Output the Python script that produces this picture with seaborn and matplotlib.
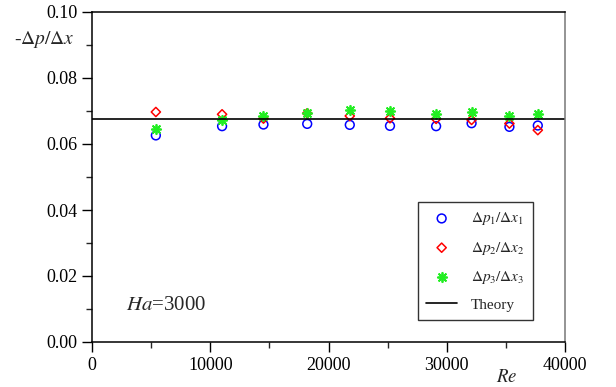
import matplotlib
matplotlib.use("Agg")
import matplotlib.pyplot as plt
import seaborn as sns
import pandas as pd
from matplotlib.ticker import MultipleLocator, FormatStrFormatter

sns.set_style("ticks")
plt.rcParams['font.family'] = ['Liberation Serif', 'DejaVu Serif']
plt.rcParams['mathtext.fontset'] = 'stix'

re_vals = [5400, 11000, 14500, 18200, 21800, 25200, 29100, 32100, 35300, 37700]
dp1 = [0.0626, 0.0654, 0.0659, 0.0661, 0.0658, 0.0655, 0.0654, 0.0663, 0.0652, 0.0656]
dp2 = [0.0697, 0.0690, 0.0677, 0.0693, 0.0685, 0.0678, 0.0676, 0.0673, 0.0662, 0.0642]
dp3 = [0.0645, 0.0672, 0.0685, 0.0695, 0.0703, 0.0701, 0.0692, 0.0696, 0.0685, 0.0691]
theory = 0.0677

fig = plt.figure(figsize=(6.16, 3.87), dpi=100)
ax = fig.add_axes([92/616, 1-342/387, (565-92)/616, (342-12)/387])

df = pd.DataFrame({"Re": re_vals, "dp1": dp1, "dp2": dp2, "dp3": dp3})

sns.scatterplot(data=df, x="Re", y="dp1", ax=ax, marker="o", s=40,
                facecolors="none", edgecolor="blue", linewidth=1.1,
                label=r"$\Delta p_1/\Delta x_1$")
sns.scatterplot(data=df, x="Re", y="dp2", ax=ax, marker="D", s=22,
                facecolors="none", edgecolor="red", linewidth=1.1,
                label=r"$\Delta p_2/\Delta x_2$")
sns.scatterplot(data=df, x="Re", y="dp3", ax=ax, marker=(8, 2, 0), s=45,
                color="#22ee22", edgecolor="#22ee22", linewidth=1.3,
                label=r"$\Delta p_3/\Delta x_3$")
ax.axhline(theory, color="black", linewidth=1.2, label="Theory")

ax.set_xlim(0, 40000)
ax.set_ylim(0, 0.10)
ax.xaxis.set_major_locator(MultipleLocator(10000))
ax.xaxis.set_minor_locator(MultipleLocator(5000))
ax.yaxis.set_major_locator(MultipleLocator(0.02))
ax.yaxis.set_minor_locator(MultipleLocator(0.01))
ax.yaxis.set_major_formatter(FormatStrFormatter("%.2f"))
ax.tick_params(which="major", direction="out", length=7, width=1, labelsize=13, colors="black")
ax.tick_params(which="minor", direction="out", length=4, width=1)
ax.set_xlabel("")
ax.set_ylabel("")
for s in ax.spines.values():
    s.set_linewidth(1.1)
    s.set_color("black")
ax.spines["right"].set_color("#777777")

fig.text(44/616, 1-39/387, r"-$\Delta p/\Delta x$", fontsize=14, ha="center", va="center")
fig.text(507/616, 1-378/387, r"$Re$", fontsize=13.5, ha="center", va="center")
ax.text(2870, 0.0112, r"$Ha$=3000", fontsize=15, ha="left", va="center")

leg = ax.legend(loc="lower right", bbox_to_anchor=(0.932, 0.066), frameon=True,
                fancybox=False, edgecolor="black", fontsize=11,
                borderpad=0.55, labelspacing=0.8, handlelength=2.0, handletextpad=0.9,
                borderaxespad=0.0)
leg.get_frame().set_linewidth(1.0)

fig.savefig("out.png", dpi=100)
